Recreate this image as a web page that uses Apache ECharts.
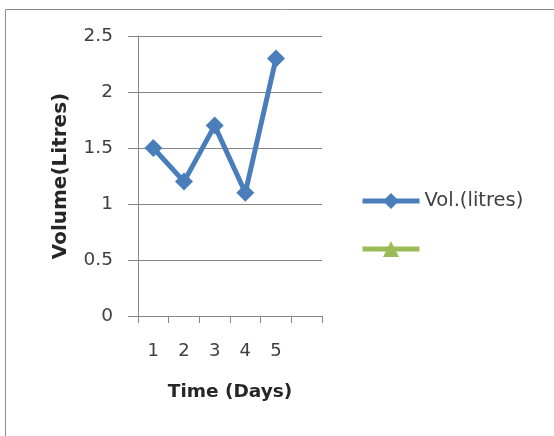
<!DOCTYPE html>
<html>
<head>
<meta charset="utf-8">
<script src="https://cdn.jsdelivr.net/npm/echarts@6/dist/echarts.min.js"></script>
<style>
html,body{margin:0;padding:0;background:#fff;}
#chart{width:554px;height:436px;}
</style>
</head>
<body>
<div id="chart"></div>
<script>
const categories = ['1', '2', '3', '4', '5', ''];
const volumeValues = [1.5, 1.2, 1.7, 1.1, 2.3];
const secondValues = [];
const seriesNames = ['Vol.(litres)', ' '];
const xAxisTitle = 'Time (Days)';
const yAxisTitle = 'Volume(Litres)';

const FONT = 'DejaVu Sans';
const chart = echarts.init(document.getElementById('chart'));
chart.setOption({
  animation: false,
  backgroundColor: '#ffffff',
  graphic: [{
    type: 'rect',
    shape: { x: 5.5, y: 9.5, width: 620, height: 500 },
    style: { fill: 'none', stroke: '#8c8c8c', lineWidth: 1 },
    silent: true
  }],
  grid: { left: 138, top: 36, right: 232, bottom: 120, containLabel: false },
  legend: {
    orient: 'vertical',
    left: 360,
    top: 191,
    padding: 0,
    itemWidth: 57,
    itemHeight: 20,
    itemGap: 28,
    data: seriesNames,
    lineStyle: { width: 5 },
    textStyle: { fontFamily: FONT, fontSize: 19.5, color: '#404040' }
  },
  xAxis: {
    type: 'category',
    data: categories,
    boundaryGap: true,
    name: xAxisTitle,
    nameLocation: 'middle',
    nameGap: 67,
    nameTextStyle: { fontFamily: FONT, fontSize: 18.5, fontWeight: 'bold', color: '#262626' },
    axisLine: { lineStyle: { color: '#868686', width: 1 } },
    axisTick: { show: true, length: 7, interval: 0, alignWithLabel: false, lineStyle: { color: '#868686' } },
    axisLabel: { interval: 0, margin: 26, fontFamily: FONT, fontSize: 18, color: '#404040' },
    splitLine: { show: false }
  },
  yAxis: {
    type: 'value',
    min: 0,
    max: 2.5,
    interval: 0.5,
    name: yAxisTitle,
    nameLocation: 'middle',
    nameRotate: 90,
    nameGap: 67,
    nameTextStyle: { fontFamily: FONT, fontSize: 20, fontWeight: 'bold', color: '#262626' },
    axisLine: { show: true, lineStyle: { color: '#868686', width: 1 } },
    axisTick: { show: true, length: 10, lineStyle: { color: '#868686' } },
    axisLabel: { margin: 25, fontFamily: FONT, fontSize: 18.5, color: '#404040' },
    splitLine: { show: true, lineStyle: { color: '#868686', width: 1 } }
  },
  series: [{
    name: seriesNames[0],
    type: 'line',
    data: volumeValues,
    symbol: 'diamond',
    symbolSize: 18,
    color: '#4A7EBB',
    lineStyle: { width: 5, color: '#4A7EBB' },
    itemStyle: { color: '#4A7EBB' }
  }, {
    name: seriesNames[1],
    type: 'line',
    data: secondValues,
    symbol: 'triangle',
    symbolSize: 14,
    color: '#9BBB59',
    lineStyle: { width: 5, color: '#9BBB59' },
    itemStyle: { color: '#9BBB59' }
  }]
});
</script>
</body>
</html>
